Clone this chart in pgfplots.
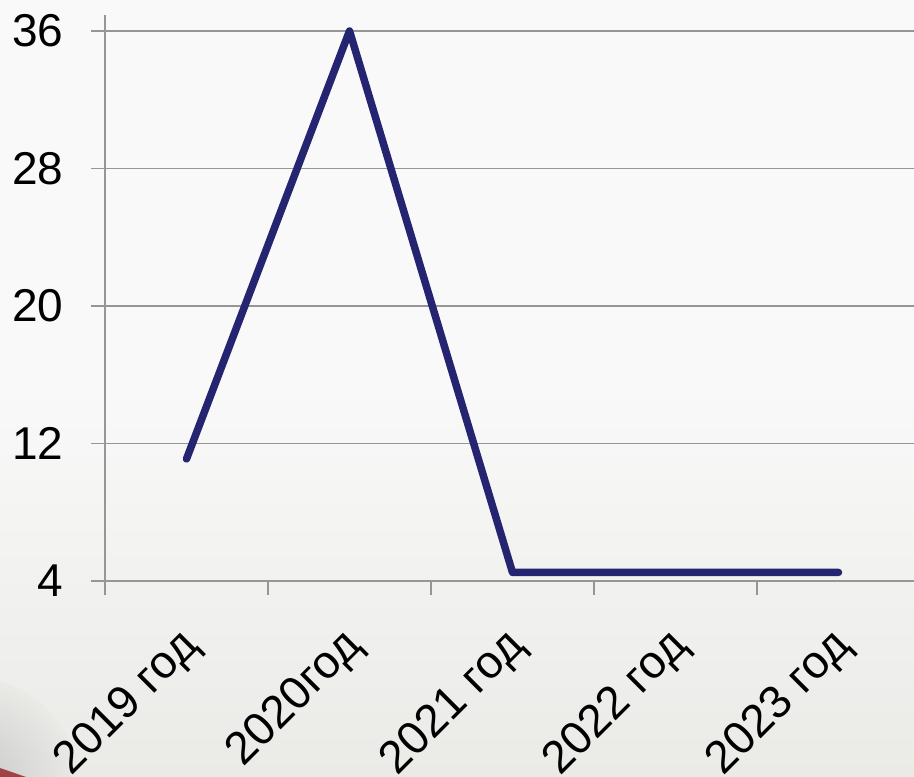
\documentclass[border=0pt]{standalone}
\usepackage{pgfplots}
\pgfplotsset{compat=1.18}
\usepackage{fontspec}
\setmainfont{Liberation Sans}
\definecolor{navy}{RGB}{36,36,112}
\definecolor{gridgray}{RGB}{150,150,150}
\definecolor{bgtop}{RGB}{249,249,249}
\definecolor{bgbot}{RGB}{234,234,231}
\definecolor{darkred}{RGB}{150,30,35}
\begin{document}
\begin{tikzpicture}[x=1pt,y=1pt]
\begin{scope}
\clip (0pt,0pt) rectangle (914pt,777pt);
\shade[top color=bgtop, bottom color=bgbot, middle color=bgtop, shading angle=0] (0pt,0pt) rectangle (914pt,777pt);
\shade[inner color=black!22, outer color=bgbot] (-30pt,-10pt) circle (110pt);
\fill[darkred, opacity=0.8] (0pt,0pt) -- (26pt,0pt) -- (0pt,9pt) -- cycle;
\begin{axis}[
  at={(105pt,196pt)}, anchor=south west,
  scale only axis, width=815pt, height=566pt,
  xmin=0, xmax=5, ymin=4, ymax=36.93,
  axis line style={gridgray, line width=1.5pt},
  axis x line*=bottom, axis y line*=left,
  xtick={0.5,1.5,2.5,3.5,4.5},
  xticklabels={2019 год,2020год,2021 год,2022 год,2023 год},
  minor xtick={0,1,2,3,4,5},
  major x tick style={draw=none},
  minor x tick style={gridgray, line width=1.5pt},
  minor tick length=14pt,
  ytick={4,12,20,28,36},
  ymajorgrids,
  major grid style={gridgray, line width=1.5pt},
  major tick length=14pt,
  tick align=outside,
  y tick style={gridgray, line width=1.5pt},
  /pgf/number format/assume math mode=true,
  every tick label/.append style={font=\fontsize{46}{50}\selectfont, text=black},
  yticklabel style={xshift=-24pt},
  xticklabel style={rotate=45, anchor=north east, xshift=-24pt, yshift=-11pt},
  clip=false,
]
\addplot[navy, line width=7.5pt, line cap=round, line join=round] coordinates {
  (0.5,11.1) (1.5,36) (2.5,4.5) (3.5,4.5) (4.5,4.5)
};
\end{axis}
\end{scope}
\pgfresetboundingbox
\useasboundingbox (0pt,0pt) rectangle (914pt,777pt);
\end{tikzpicture}
\end{document}
